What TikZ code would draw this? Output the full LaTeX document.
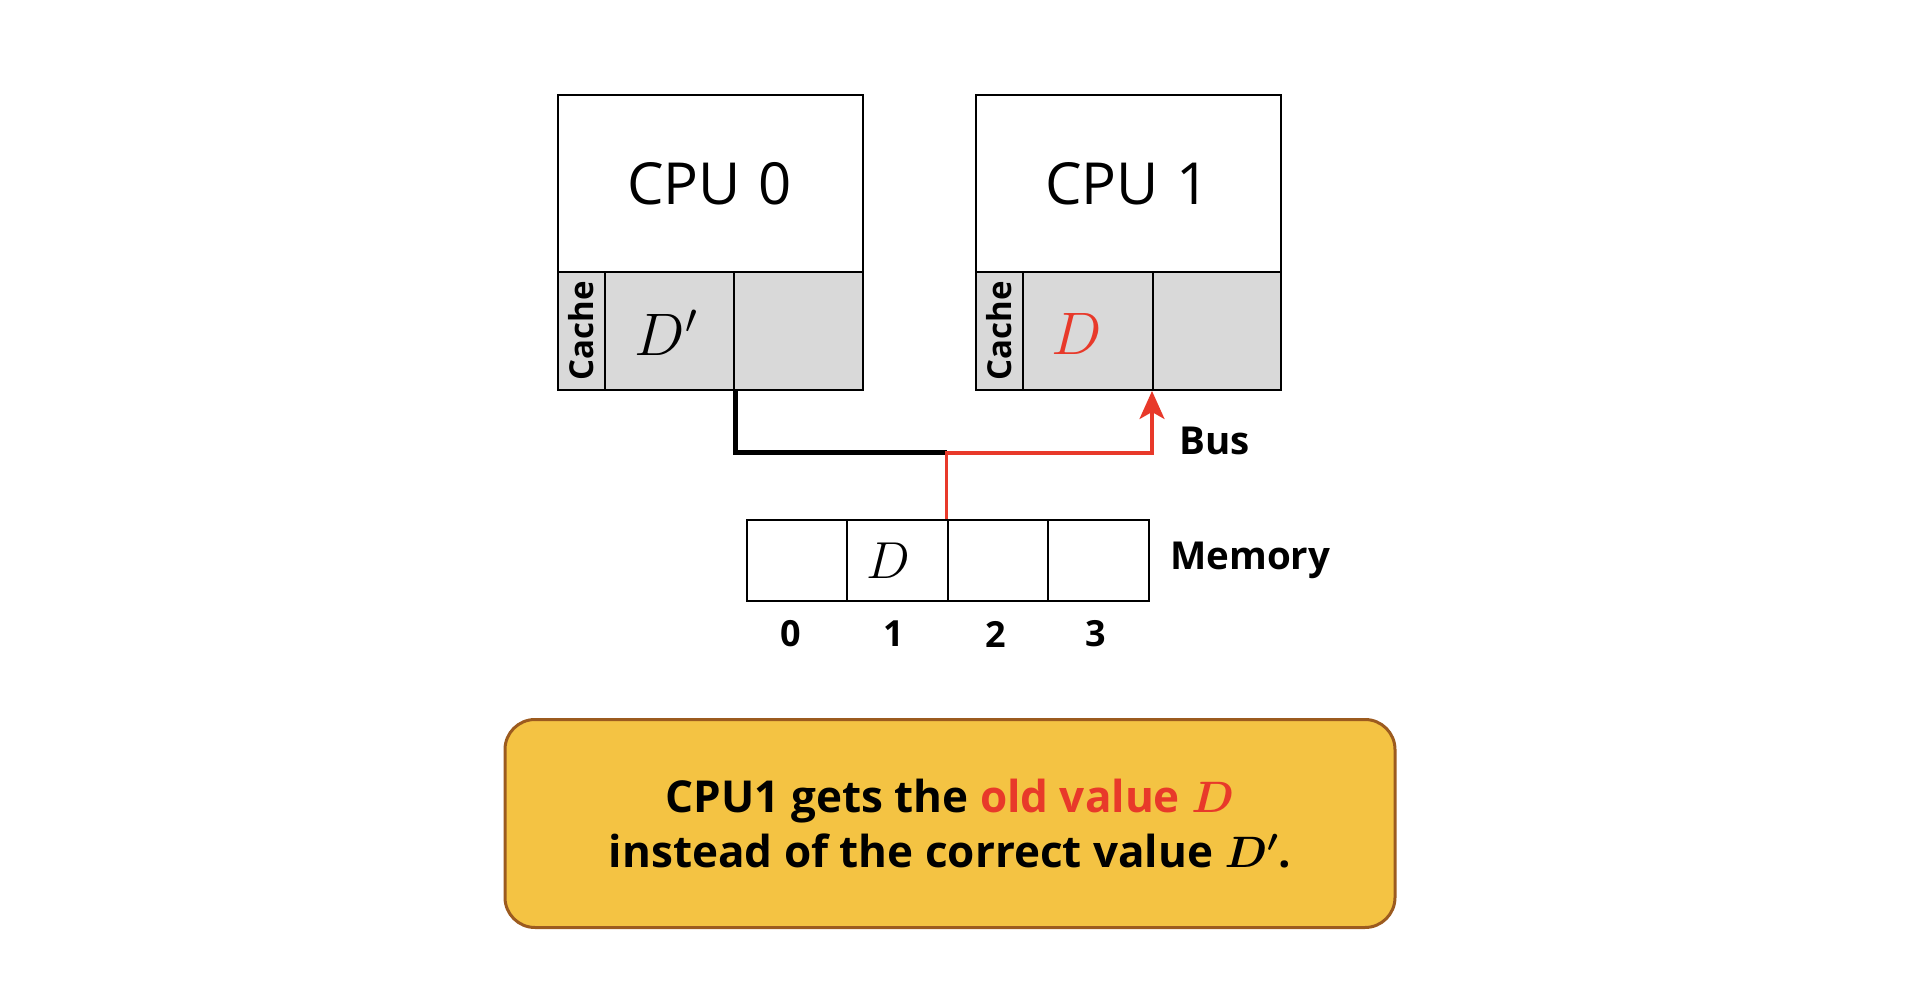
\documentclass[tikz,border=0pt]{standalone}
\usepackage{fix-cm}
\usepackage{amsmath}
\usepackage{fontspec}
\setmainfont{Open Sans}
\usetikzlibrary{arrows.meta,positioning}
\definecolor{cgray}{HTML}{D9D9D9}
\definecolor{cred}{HTML}{E8392A}
\definecolor{cyel}{HTML}{F4C343}
\definecolor{cbrown}{HTML}{9C5B1F}
\tikzset{
  box/.style={draw=black,line width=2pt,inner sep=0pt,anchor=north west},
  cachebox/.style={box,fill=cgray},
  lbl/.style={font=\fontsize{36}{42}\selectfont\bfseries,inner sep=0pt},
  biglbl/.style={font=\fontsize{38.5}{44}\selectfont\bfseries,inner sep=0pt,anchor=west},
}
\begin{document}
\begin{tikzpicture}[x=1pt,y=-1pt]
\useasboundingbox (0,0) rectangle (1907,1000);
% CPU 0
\node[box,minimum width=305pt,minimum height=177pt] (cpu0) at (557,94) {};
\node[font=\fontsize{58}{64}\selectfont] (cpu0t) at (709.5,184) {CPU\hspace{0.3em}0};
\node[cachebox,minimum width=47pt,minimum height=118pt] (c0s) at (557,271) {};
\node[font=\fontsize{33}{38}\selectfont\bfseries,inner sep=0pt,rotate=90] (c0l) at (c0s.center) {Cache};
\node[cachebox,minimum width=129pt,minimum height=118pt] (c0a) at (604,271) {};
\node[font=\fontsize{60}{66}\selectfont] (c0d) at (666,333) {$D'$};
\node[cachebox,minimum width=129pt,minimum height=118pt] (c0b) at (733,271) {};
% CPU 1
\node[box,minimum width=305pt,minimum height=177pt] (cpu1) at (975,94) {};
\node[font=\fontsize{58}{64}\selectfont] (cpu1t) at (1127.5,184) {CPU\hspace{0.3em}1};
\node[cachebox,minimum width=47pt,minimum height=118pt] (c1s) at (975,271) {};
\node[font=\fontsize{33}{38}\selectfont\bfseries,inner sep=0pt,rotate=90] (c1l) at (c1s.center) {Cache};
\node[cachebox,minimum width=130pt,minimum height=118pt] (c1a) at (1022,271) {};
\node[font=\fontsize{60}{66}\selectfont,text=cred] (c1d) at (1077,334) {$D$};
\node[cachebox,minimum width=128pt,minimum height=118pt] (c1b) at (1152,271) {};
% Memory
\foreach \i/\x in {0/745.5,1/846.1,2/946.7,3/1047.3}{
  \node[box,minimum width=100.6pt,minimum height=81pt] (m\i) at (\x,519) {};
}
\node[font=\fontsize{52}{58}\selectfont] (md) at (888,561) {$D$};
\foreach \i/\x in {0/790.5,1/894,2/996,3/1096}{
  \node[lbl] (n\i) at (\x,634) {\i};
}
\node[biglbl] (memlbl) at (1170,560) {Memory};
\node[biglbl] (buslbl) at (1179,441) {Bus};
% Bus
\coordinate (j) at (m2.north west |- 0,452);
\coordinate (jr) at (m2.north west |- 0,453);
\draw[line width=5pt,line join=miter] (c0a.south east) -- (c0a.south east |- j) -- (j);
\draw[cred,line width=3.2pt,line join=miter,-{Stealth[length=28pt,width=25pt,inset=7pt]}]
  (m2.north west) -- (jr) -- (jr -| c1b.south west) -- (c1b.south west);
% Message box
\node[draw=cbrown,line width=3pt,fill=cyel,rounded corners=30pt,minimum width=890pt,minimum height=208pt,anchor=north west,inner sep=0pt] (msg) at (503.5,718) {};
\node[align=center,font=\fontsize{44}{55}\selectfont\bfseries,inner sep=0pt] (msgt) at (msg.center)
  {CPU1 gets the \textcolor{cred}{old value $\boldsymbol{D}$}\\instead of the correct value $\boldsymbol{D'}$.};
\end{tikzpicture}
\end{document}
